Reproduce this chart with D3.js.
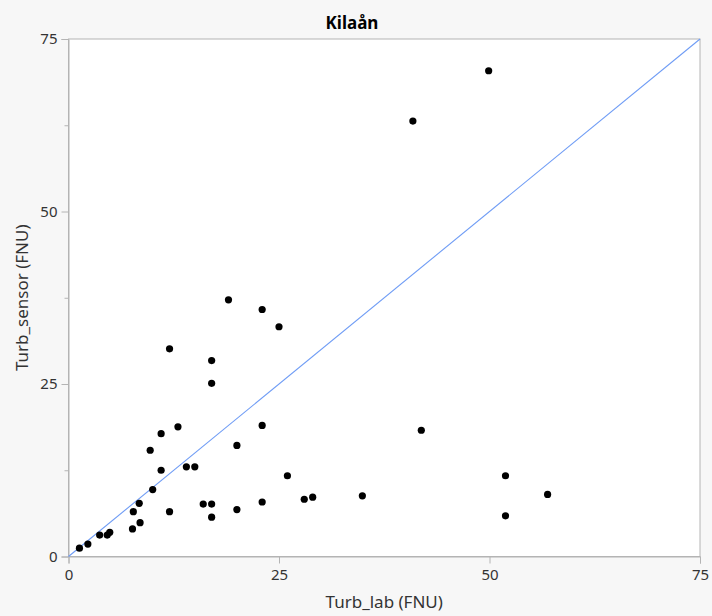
<!DOCTYPE html>
<html>
<head>
<meta charset="utf-8">
<script src="https://cdn.jsdelivr.net/npm/d3@7"></script>
<style>
  html, body { margin: 0; padding: 0; background: #f7f7f7; }
  svg { display: block; }
  text { font-family: "Noto Sans", "Open Sans", sans-serif; }
</style>
</head>
<body>
<svg id="chart" width="712" height="616"></svg>
<script>
// Lab turbidity vs. sensor turbidity, Kilaån
const chartTitle = "Kilaån";
const xLabel = "Turb_lab (FNU)";
const yLabel = "Turb_sensor (FNU)";

const turbLab = [
  1.3, 2.3, 3.7, 4.6, 4.9, 7.6, 8.5, 7.7, 8.4, 10.0,
  11.0, 9.7, 11.0, 13.0, 12.0, 12.0, 14.0, 15.0, 16.0, 17.0,
  17.0, 17.0, 17.0, 19.0, 20.0, 20.0, 23.0, 23.0, 23.0, 25.0,
  26.0, 28.0, 29.0, 34.9, 49.9, 40.9, 41.9, 51.9, 56.9, 51.9
];
const turbSensor = [
  1.2, 1.8, 3.1, 3.1, 3.5, 4.0, 4.9, 6.5, 7.7, 9.7,
  12.5, 15.4, 17.8, 18.8, 30.1, 6.5, 13.0, 13.0, 7.6, 7.6,
  5.7, 25.1, 28.4, 37.2, 16.1, 6.8, 35.8, 19.0, 7.9, 33.3,
  11.7, 8.3, 8.6, 8.8, 70.4, 63.1, 18.3, 11.7, 9.0, 5.9
];
const xTicks = [0, 25, 50, 75];
const yTicks = [0, 25, 50, 75];
const yMinorTicks = [12.5, 37.5, 62.5];
const identityLine = [0, 75];

const svg = d3.select("#chart");
const margin = { top: 39, right: 12, bottom: 59.5, left: 68.5 };
const W = 712, H = 616;
const iw = W - margin.left - margin.right;
const ih = H - margin.top - margin.bottom;

const x = d3.scaleLinear().domain([0, 75]).range([0, iw]);
const y = d3.scaleLinear().domain([0, 75]).range([ih, 0]);

const g = svg.append("g").attr("transform", `translate(${margin.left},${margin.top})`);

// plot background
g.append("rect").attr("width", iw).attr("height", ih).attr("fill", "#ffffff");

// frame
g.append("rect").attr("width", iw).attr("height", ih)
  .attr("fill", "none").attr("stroke", "#b4b4b4").attr("stroke-width", 1);

// x axis
g.append("g").attr("transform", `translate(0,${ih})`)
  .call(d3.axisBottom(x).tickValues(xTicks).tickSize(7).tickPadding(6).tickFormat(d3.format("d")));
// y axis
g.append("g")
  .call(d3.axisLeft(y).tickValues(yTicks).tickSize(7).tickPadding(4).tickFormat(d3.format("d")));
// y minor ticks
g.append("g")
  .call(d3.axisLeft(y).tickValues(yMinorTicks).tickSize(4).tickFormat(""))
  .call(a => a.select(".domain").remove());

g.selectAll(".domain").attr("stroke", "#b4b4b4");
g.selectAll(".tick line").attr("stroke", "#b4b4b4");
g.selectAll(".tick text").attr("fill", "#333333").style("font-size", "15px");

// identity line y = x
g.append("line")
  .attr("x1", x(identityLine[0])).attr("y1", y(identityLine[0]))
  .attr("x2", x(identityLine[1])).attr("y2", y(identityLine[1]))
  .attr("stroke", "#6f9cf5").attr("stroke-width", 1.1);

// points
g.append("g").selectAll("circle")
  .data(turbLab.map((v, i) => [v, turbSensor[i]]))
  .join("circle")
  .attr("cx", d => x(d[0]))
  .attr("cy", d => y(d[1]))
  .attr("r", 3.6)
  .attr("fill", "#000000");

// title
svg.append("text")
  .attr("x", W / 2 - 4).attr("y", 29)
  .attr("text-anchor", "middle")
  .style("font-size", "17px").style("font-weight", "bold")
  .attr("fill", "#000")
  .text(chartTitle);

// axis titles
svg.append("text")
  .attr("x", margin.left + iw / 2).attr("y", 608)
  .attr("text-anchor", "middle")
  .style("font-size", "17px").attr("fill", "#333333")
  .text(xLabel);

svg.append("text")
  .attr("transform", `translate(28,${margin.top + ih / 2}) rotate(-90)`)
  .attr("text-anchor", "middle")
  .style("font-size", "17px").attr("fill", "#333333")
  .text(yLabel);
</script>
</body>
</html>
